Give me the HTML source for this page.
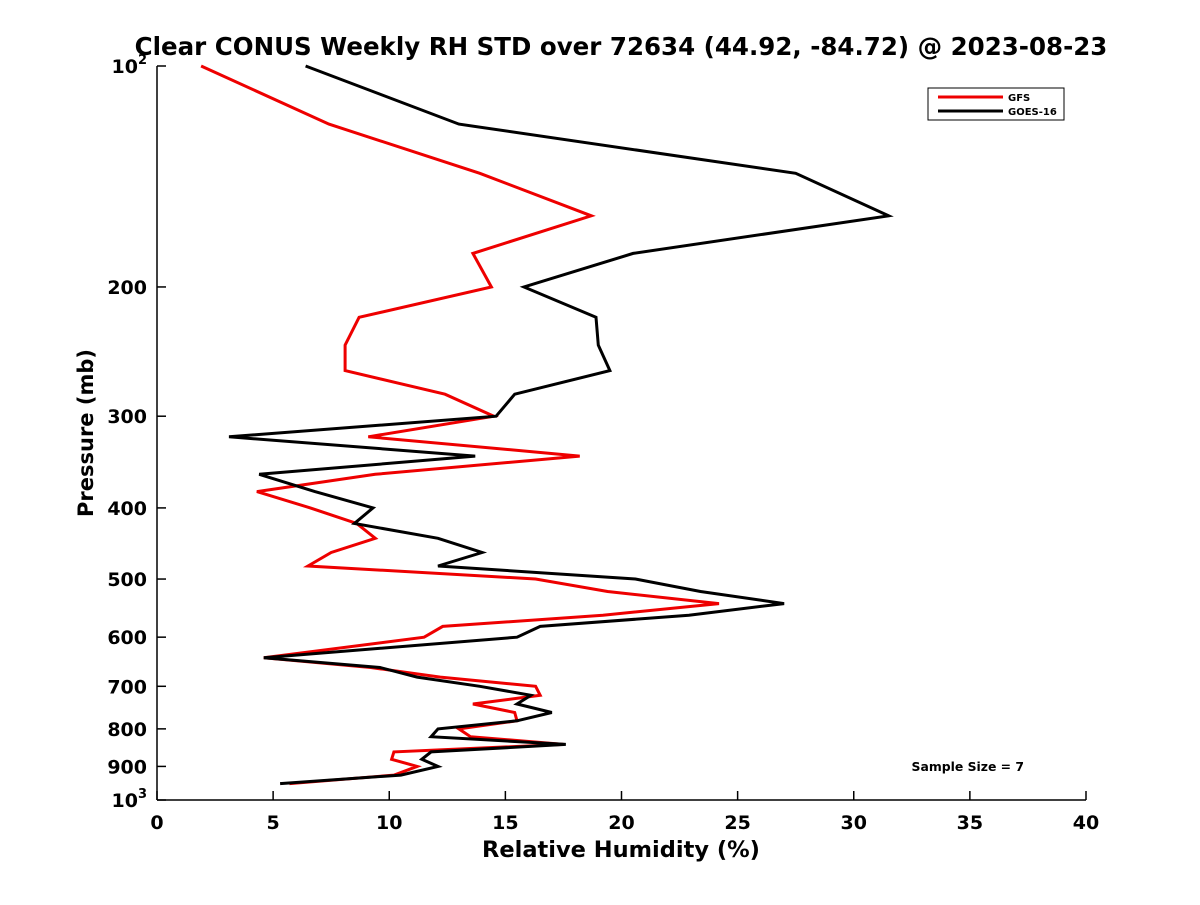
<!DOCTYPE html>
<html><head><meta charset="utf-8"><style>
body{margin:0;background:#fff;width:1200px;height:900px;overflow:hidden}
svg{font-family:"DejaVu Sans","Liberation Sans",sans-serif}
</style></head><body>
<svg id="chart" width="1200" height="900">
<rect width="1200" height="900" fill="#fff"/>
<text x="621" y="55" text-anchor="middle" font-size="24.5" font-weight="bold">Clear CONUS Weekly RH STD over 72634 (44.92, -84.72) @ 2023-08-23</text>
<g id="axes"></g>
<g id="series"></g>
<g>
<rect x="928" y="88" width="136" height="32" fill="#fff" stroke="#000" stroke-width="1"/>
<line x1="938" y1="97" x2="1003" y2="97" stroke="#e00" stroke-width="3"/>
<text x="1008" y="101" font-size="10" font-weight="bold">GFS</text>
<line x1="938" y1="111" x2="1003" y2="111" stroke="#000" stroke-width="3"/>
<text x="1008" y="115" font-size="10" font-weight="bold">GOES-16</text>
</g>
<text x="1024" y="771" text-anchor="end" font-size="12.4" font-weight="bold">Sample Size = 7</text>
<text x="621" y="857" text-anchor="middle" font-size="22.5" font-weight="bold">Relative Humidity (%)</text>
<text transform="translate(93,433) rotate(-90)" text-anchor="middle" font-size="21" font-weight="bold">Pressure (mb)</text>
</svg>
<script>
const pressures=[100,120,140,160,180,200,220,240,260,280,300,320,340,360,380,400,420,440,460,480,500,520,540,560,580,600,640,660,680,700,720,740,760,780,800,820,840,860,880,900,925,950];
const goesValues=[6.4,13.0,27.5,31.5,20.5,15.8,18.9,19.0,19.5,15.4,14.6,3.1,13.7,4.4,6.8,9.3,8.5,12.1,14.0,12.1,20.6,23.4,27.0,22.9,16.5,15.5,4.6,9.6,11.2,13.9,16.1,15.5,17.0,15.5,12.1,11.8,17.6,11.8,11.4,12.1,10.5,5.3];
const gfsValues=[1.9,7.4,13.9,18.7,13.6,14.4,8.7,8.1,8.1,12.4,14.5,9.1,18.2,9.4,4.3,6.6,8.6,9.4,7.5,6.5,16.3,19.4,24.2,19.2,12.3,11.5,4.6,9.2,12.2,16.3,16.5,13.6,15.4,15.5,13.0,13.5,17.5,10.2,10.1,11.2,10.2,5.7];
const xTicks=[0,5,10,15,20,25,30,35,40];
const yTicks=[100,200,300,400,500,600,700,800,900,1000];
const yTickLabels=["10|2","200","300","400","500","600","700","800","900","10|3"];

const X0=157,X1=1086,Y0=66,Y1=800;
const xs=v=>X0+(v-0)/(40-0)*(X1-X0);
const ys=p=>Y0+(Math.log10(p)-2)*(Y1-Y0);
const NS="http://www.w3.org/2000/svg";
const ax=document.getElementById('axes');
function mk(t,a,parent){const e=document.createElementNS(NS,t);for(const k in a)e.setAttribute(k,a[k]);parent.appendChild(e);return e;}

const xl=mk('line',{x1:X0,y1:Y1,x2:X1,y2:Y1,stroke:'#000','stroke-width':1.5},ax);


const yl=mk('line',{x1:X0,y1:Y0,x2:X0,y2:Y1,stroke:'#000','stroke-width':1.5},ax);



xTicks.forEach(v=>{
  const x=xs(v);
  const tk=mk('line',{x1:x,y1:Y1,x2:x,y2:Y1-9,stroke:'#000','stroke-width':1.5},ax);
  
  
  const t=mk('text',{x:x,y:Y1+29,'text-anchor':'middle','font-size':19,'font-weight':'bold'},ax);
  t.textContent=v;
  
  
});
yTicks.forEach((p,i)=>{
  const y=ys(p);
  const tk=mk('line',{x1:X0,y1:y,x2:X0+9,y2:y,stroke:'#000','stroke-width':1.5},ax);
  
  
  const lab=yTickLabels[i];
  const t=mk('text',{x:X0-10,y:y+7,'text-anchor':'end','font-size':19,'font-weight':'bold'},ax);
  if(lab.indexOf('|')>=0){
    const parts=lab.split('|');
    const a=mk('tspan',{},t);a.textContent=parts[0];
    const b=mk('tspan',{dy:-9,'font-size':13},t);b.textContent=parts[1];
  } else t.textContent=lab;
  
  
});

const sg=document.getElementById('series');
function drawLine(vals,color,name){
  const pts=vals.map((v,i)=>xs(v).toFixed(1)+','+ys(pressures[i]).toFixed(1)).join(' ');
  const pl=mk('polyline',{points:pts,fill:'none',stroke:color,'stroke-width':3,'stroke-linejoin':'miter'},sg);
  
  
}
drawLine(gfsValues,'#e00','gfs-line');
drawLine(goesValues,'#000','goes16-line');
</script>
</body></html>
